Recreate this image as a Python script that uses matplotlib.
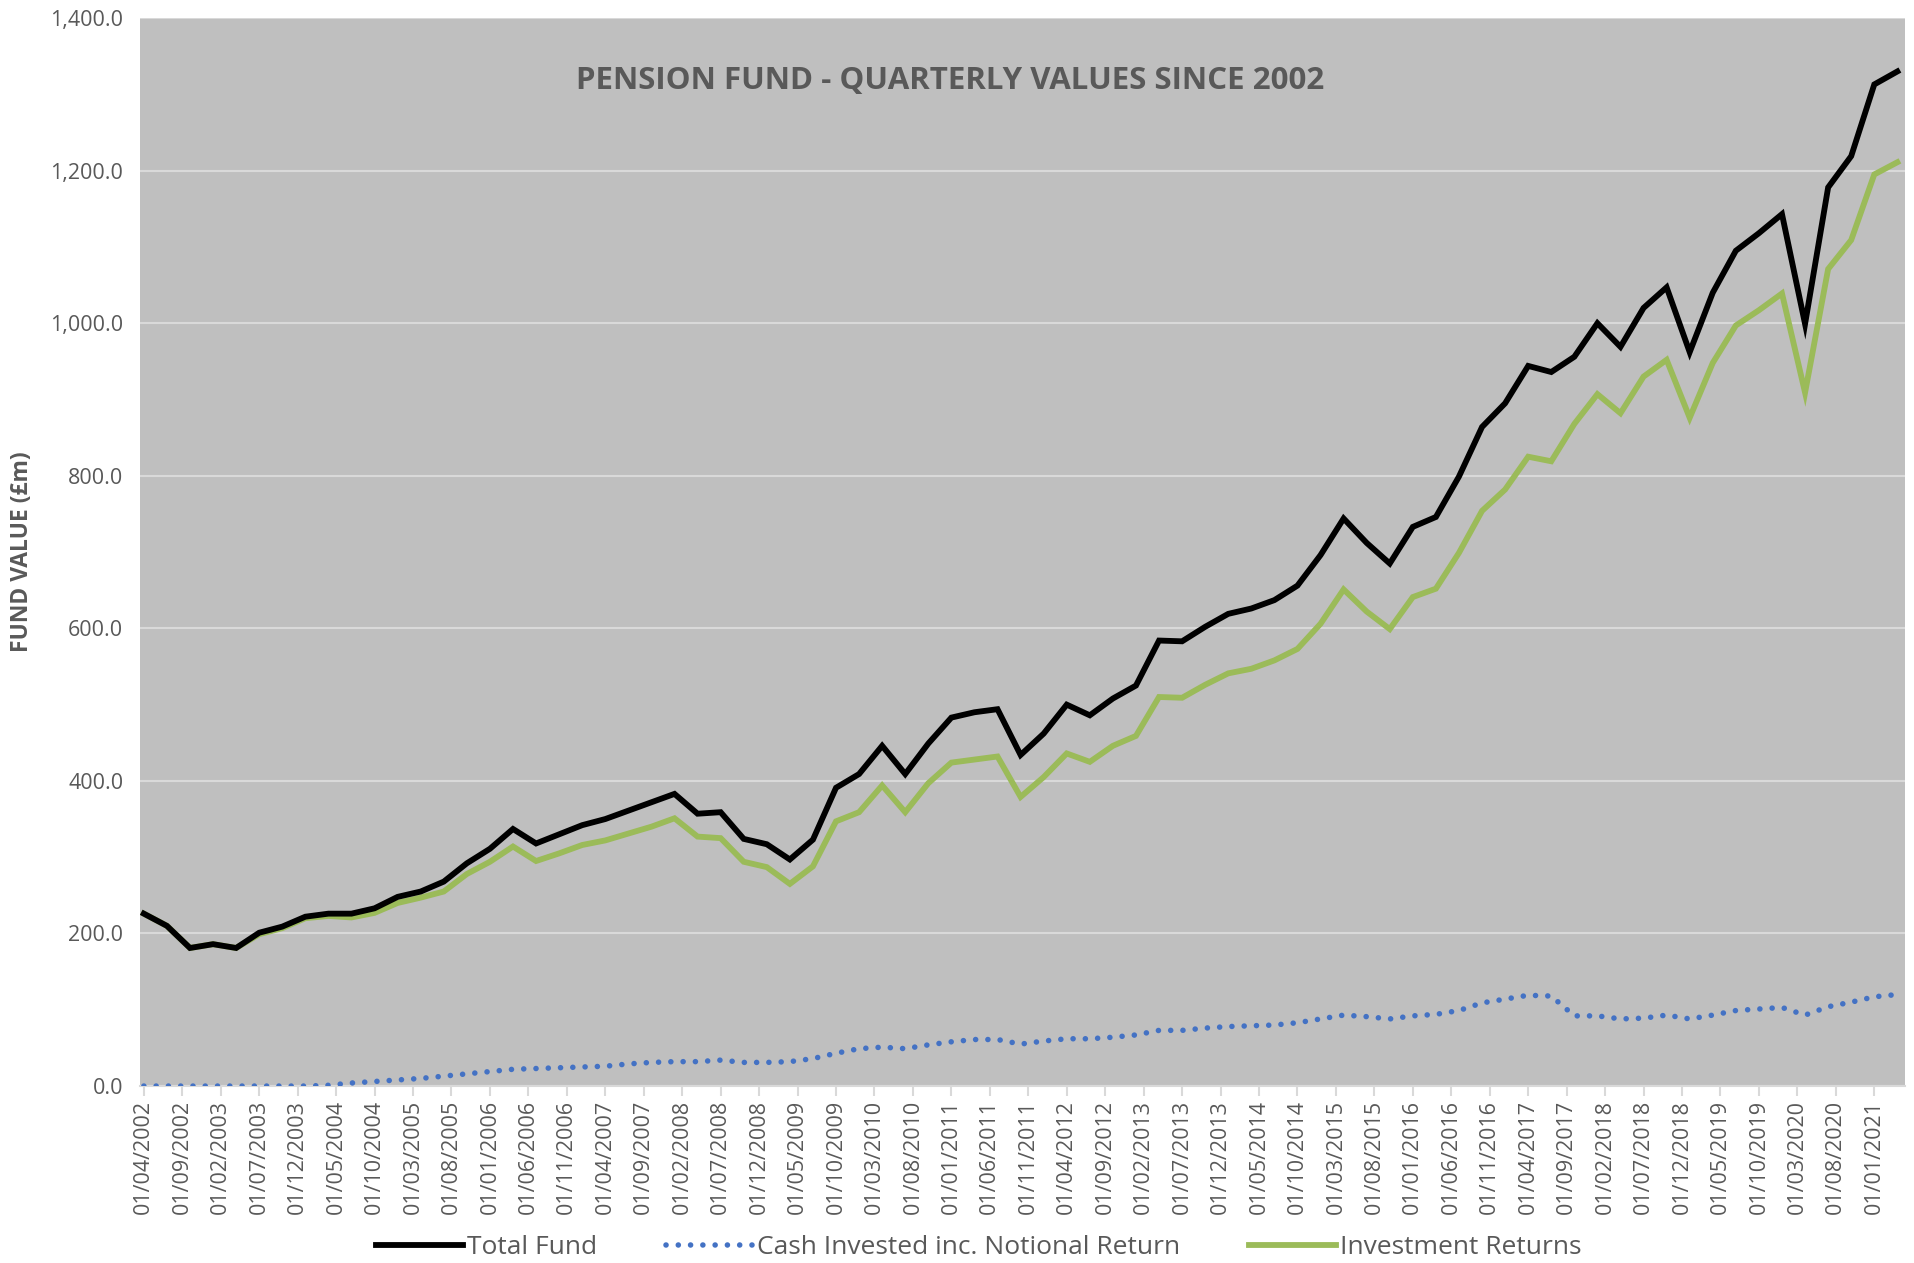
#!/usr/bin/env python3
"""Pension fund quarterly values chart"""

import matplotlib
matplotlib.use('Agg')
import matplotlib.pyplot as plt
from matplotlib.ticker import FuncFormatter

# Quarterly values, Apr 2002 - Apr 2021 (GBP m)
total_fund = [226, 210, 181, 186, 181, 201, 209, 222, 226, 226,
              233, 248, 255, 268, 292, 311, 337, 318, 330, 342,
              350, 361, 372, 383, 357, 359, 324, 317, 297, 323,
              391, 409, 446, 409, 449, 483, 490, 494, 434, 462,
              500, 486, 508, 525, 584, 583, 602, 619, 626, 637,
              656, 696, 744, 712, 685, 733, 746, 799, 864, 895,
              944, 936, 956, 1000, 969, 1020, 1047, 962, 1040, 1095,
              1118, 1143, 999, 1178, 1219, 1313, 1330]
cash_invested = [0, 0, 0, 0, 0, 0, 0, 0, 1, 4,
                 6, 8, 10, 13, 16, 19, 22, 23, 24, 25,
                 26, 29, 31, 32, 32, 34, 31, 31, 32, 36,
                 43, 49, 51, 49, 54, 58, 61, 61, 55, 59,
                 62, 62, 64, 67, 73, 73, 76, 78, 79, 80,
                 83, 88, 93, 91, 88, 92, 94, 99, 109, 114,
                 119, 118, 92, 92, 88, 89, 93, 88, 93, 99,
                 101, 103, 93, 104, 110, 117, 120]
investment_returns = [226, 210, 181, 186, 181, 199, 207, 220, 223, 221,
                      227, 240, 247, 255, 278, 294, 314, 295, 305, 316,
                      322, 331, 340, 351, 327, 325, 294, 287, 265, 288,
                      347, 359, 394, 359, 397, 424, 428, 432, 379, 405,
                      436, 425, 446, 459, 510, 509, 526, 541, 547, 558,
                      573, 606, 651, 622, 599, 641, 652, 699, 754, 782,
                      825, 819, 868, 907, 882, 930, 952, 876, 948, 997,
                      1017, 1039, 909, 1071, 1109, 1195, 1211]

start_year, start_month = 2002, 4
tick_step = 5  # months between axis labels

# months since Apr 2002 for each quarter
months = [3 * i for i in range(len(total_fund))]
tick_months = list(range(0, months[-1] + 1, tick_step))

def month_label(m):
    y = start_year + (start_month - 1 + m) // 12
    mo = (start_month - 1 + m) % 12 + 1
    return f"01/{mo:02d}/{y}"

tick_labels = [month_label(m) for m in tick_months]

plt.rcParams['font.family'] = ['Open Sans', 'DejaVu Sans']
grey = '#595959'

fig = plt.figure(figsize=(19.15, 12.63), dpi=100)
ax = fig.add_axes([0.0731, 0.1401, 0.9217, 0.8456])
ax.set_facecolor('#BFBFBF')

ax.plot(months, total_fund, color='black', lw=4.2, label='Total Fund',
        solid_joinstyle='miter', zorder=4)
ax.plot(months, cash_invested, color='#4472C4', lw=4.0,
        linestyle=(0, (0.01, 2.2)), dash_capstyle='round',
        label='Cash Invested inc. Notional Return', zorder=3)
ax.plot(months, investment_returns, color='#9BBB59', lw=4.2,
        label='Investment Returns', solid_joinstyle='miter', zorder=3)

ax.set_ylim(0, 1400)
ax.set_yticks(range(0, 1401, 200))
ax.yaxis.set_major_formatter(FuncFormatter(lambda v, p: f"{v:,.1f}"))
ax.set_xlim(-0.5, 229)
ax.set_xticks(tick_months)
ax.set_xticklabels(tick_labels, rotation=90)

ax.grid(axis='y', color='#D9D9D9', lw=1.5, zorder=1)
ax.set_axisbelow(True)
for s in ['top', 'right', 'left']:
    ax.spines[s].set_visible(False)
ax.spines['bottom'].set_color('#D9D9D9')
ax.spines['bottom'].set_linewidth(1.5)
ax.tick_params(axis='x', colors='#D9D9D9', labelcolor=grey, labelsize=15.5,
               length=7, width=1.5, pad=3)
ax.tick_params(axis='y', labelcolor=grey, labelsize=15.5, length=0, pad=12)

fig.text(0.0115, 0.563, 'FUND VALUE (£m)', rotation=90, ha='center',
         va='center', fontsize=16.5, fontweight='bold', color=grey)
fig.text(0.496, 0.936, 'PENSION FUND - QUARTERLY VALUES SINCE 2002',
         ha='center', va='center', fontsize=22.5, fontweight='bold', color=grey)

leg = fig.legend(loc='center', bbox_to_anchor=(0.511, 0.012), ncol=3,
                 frameon=False, fontsize=19, handlelength=3.3,
                 columnspacing=2.6, handletextpad=0.15, labelcolor=grey)

fig.savefig('out.png', dpi=100)
plt.close(fig)
